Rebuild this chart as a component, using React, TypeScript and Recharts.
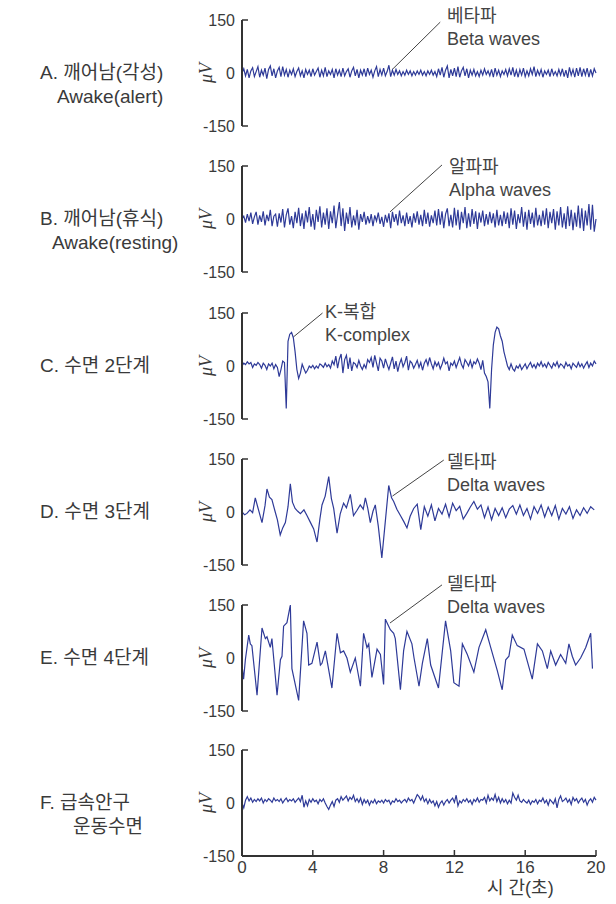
import React from 'react'
import { LineChart, Line, XAxis, YAxis, ReferenceLine } from 'recharts'

// sampled traces (µV), one value every 0.1 s from 0 to 20 s
const sampleStep = 0.1

const alertWave = [
  0, 12, -8, 10, -14, 6, 15, -10, 4, 18,
  -12, 8, -6, 14, -16, 10, 20, -8, 12, -14,
  6, 16, -10, 18, -6, 10, -12, 8, -4, 12,
  -10, 4, 14, -8, 6, -14, 10, -4, 8, -10,
  12, -6, 4, 14, -12, 8, -8, 16, -10, 6,
  -4, 10, -14, 12, -6, 8, -10, 14, -8, 4,
  12, -12, 6, 16, -8, 10, -14, 8, -6, 12,
  -10, 14, -4, 8, -12, 6, 18, -10, 10, -6,
  14, -8, 4, 22, -10, 8, -6, 10, -4, 6,
  -8, 4, -6, 8, -4, 6, -8, 4, -6, 6,
  -4, 8, -6, 4, -8, 6, -4, 8, -6, 4,
  -10, 12, -6, 16, -12, 8, 20, -14, 10, -8,
  14, -10, 18, -12, 6, 16, -8, 12, -14, 8,
  -6, 10, -8, 4, -10, 8, -6, 12, -4, 6,
  -8, 10, -12, 14, -6, 8, -10, 6, -4, 10,
  -8, 12, -6, 16, -10, 8, -12, 10, -6, 14,
  -10, 6, -8, 12, -4, 18, -10, 8, -6, 10,
  -12, 6, -4, 8, -10, 12, -6, 4, -8, 10,
  -6, 12, -10, 8, -14, 16, -6, 10, -12, 14,
  -8, 16, -10, 12, -6, 14, -12, 10, -8, 12,
  0,
]

const restingWave = [
  0, 8, -10, 14, -6, 18, -14, 6, 20, -16,
  10, -8, 22, -18, 12, -6, 26, -20, 8, 14,
  -22, 16, -10, 28, -24, 12, 30, -16, 8, -26,
  20, -12, 32, -20, 16, -28, 24, -10, 34, -22,
  14, -30, 26, -8, 36, -24, 18, -16, 30, -28,
  22, -12, 38, -26, 12, 48, -20, 30, -34, 18,
  -14, 34, -24, 10, -18, 26, -30, 14, -8, 20,
  -16, 8, -12, 14, -20, 10, -6, 18, -14, 6,
  -22, 12, -10, 16, -26, 20, -8, 14, -18, 24,
  -12, 10, -20, 18, -14, 8, -24, 16, -10, 22,
  -16, 12, -20, 26, -14, 18, -22, 10, -12, 24,
  -18, 28, -16, 22, -26, 14, 30, -20, 12, -24,
  32, -18, 26, -30, 20, -12, 34, -26, 16, -22,
  28, -14, 22, -28, 18, -10, 24, -20, 14, -16,
  20, -12, 16, -24, 26, -18, 12, -20, 22, -14,
  18, -26, 30, -16, 24, -28, 14, -12, 34, -22,
  20, -30, 26, -14, 18, -24, 32, -18, 12, -20,
  24, -16, 30, -26, 20, -12, 28, -30, 22, -18,
  34, -24, 16, -28, 36, -20, 26, -32, 18, -22,
  38, -26, 30, -34, 24, -18, 42, -30, 40, -36,
  0,
]

const stage2Wave = [
  0, 8, 4, 12, 6, 10, -4, 6, 2, 10,
  4, -6, 8, 2, -10, 6, 0, 8, -8, 4,
  -4, -30, -10, 14, 10, -120, 70, 90, 95, 80,
  40, -10, -35, -20, 5, -8, -20, -12, 0, -5,
  2, -8, 0, -6, 6, 2, -4, 8, -2, 4,
  -6, 14, 4, 28, -6, 20, 34, -20, 18, 30,
  -8, 24, -14, 10, 6, -4, 16, 0, -10, 4,
  -6, 18, 10, 24, -4, 30, 8, -14, 22, 14,
  -6, 20, 4, -10, 8, 26, -8, 14, -16, 6,
  20, -2, 10, 28, -12, 14, 8, -6, 4, 16,
  -4, 10, -12, 8, 18, 2, 24, 6, -8, 12,
  0, 10, -8, 4, 22, 6, 12, -14, 8, 2,
  14, -4, 10, 24, 4, -6, 18, 10, 0, 16,
  -4, 12, 6, 20, 8, -10, 16, -20, -30, -45,
  -120, -10, 60, 95, 110, 105, 85, 70, 40, 20,
  0, -10, 6, -8, -14, 0, -6, 4, -10, -2,
  6, -8, 2, 10, -4, 4, -6, 8, 0, 12,
  -2, 6, -4, 10, 2, -6, 8, 0, 12, -4,
  6, 2, -6, 10, 0, 4, -8, 8, 2, -4,
  10, -2, 6, -6, 4, 12, -4, 8, 0, 14,
  6,
]

const remWave = [
  0, -14, 8, 18, 6, 14, 2, 10, 4, 12,
  6, 14, 0, 10, 4, 12, 8, 2, 14, 6,
  10, 4, 12, 0, 8, 14, 4, 10, 6, 12,
  2, 8, 14, 4, 22, -12, 6, -8, 10, 2,
  12, 4, 8, -2, 10, 4, 12, 0, -10, -18,
  -6, 4, -10, 8, 12, 2, 18, 8, 14, 20,
  6, 16, 10, 22, 4, 12, 2, 14, -4, 10,
  0, 8, -6, 6, 0, 10, -2, 6, 2, 8,
  0, 10, 4, 8, -4, 6, 2, 12, 4, 8,
  0, 6, 10, 2, 14, 6, 10, 0, 12, 24,
  18, 8, 20, 4, 12, -2, 10, 0, 6, -8,
  4, -12, 0, 6, -6, 4, 10, 0, 8, 14,
  2, 22, -8, 6, 0, 10, 4, 12, 2, 8,
  -4, 10, 4, 14, 2, 10, 8, 16, 0, 22,
  6, 14, 8, 24, 4, 16, 0, 12, 2, 10,
  -2, 8, 0, 28, 16, 8, 22, 6, 2, 10,
  4, 0, 8, -4, 6, 2, 10, -2, 8, 4,
  14, 0, 8, -6, 10, 4, -2, 12, -14, 10,
  20, 4, 8, 14, 2, 10, -4, 16, 6, 12,
  0, 8, 14, 2, 10, -6, 6, 12, 2, 16,
  8,
]

// slow waves: turning points (time s, µV)
const stage3Times = [
  0, 0.15, 0.28, 0.45, 0.6, 0.75, 0.9, 1.13, 1.3, 1.41,
  1.55, 1.69, 1.85, 2.0, 2.16, 2.3, 2.45, 2.6, 2.73, 2.85,
  3.0, 3.15, 3.3, 3.5, 3.67, 3.85, 4.05, 4.24, 4.4, 4.52,
  4.7, 4.9, 5.05, 5.18, 5.37, 5.55, 5.74, 5.9, 6.12, 6.3,
  6.5, 6.68, 6.85, 6.97, 7.1, 7.25, 7.4, 7.53, 7.7, 7.9,
  8.1, 8.29, 8.45, 8.57, 8.75, 8.95, 9.15, 9.32, 9.5, 9.7,
  9.9, 10.1, 10.3, 10.5, 10.7, 10.9, 11.1, 11.3, 11.5, 11.7,
  11.9, 12.1, 12.3, 12.5, 12.7, 12.9, 13.1, 13.3, 13.5, 13.7,
  13.9, 14.1, 14.3, 14.5, 14.7, 14.9, 15.1, 15.3, 15.5, 15.7,
  15.9, 16.1, 16.3, 16.5, 16.7, 16.9, 17.1, 17.3, 17.5, 17.7,
  17.9, 18.1, 18.3, 18.5, 18.7, 18.9, 19.1, 19.3, 19.5, 19.7,
  19.9,
]
const stage3Values = [
  0, -8, -4, 6, -2, 40, 12, -30, 18, 65,
  42, 35, 5, -22, -65, -45, -30, 15, 80, 28,
  10, 2, -5, 6, -10, -28, -48, -85, -20, 20,
  45, 100, 38, 10, -60, -5, 25, 12, 50, -10,
  5, 20, 8, 40, 12, -30, 2, 20, -40, -130,
  -25, 75, 40, 30, 8, -10, -28, -45, -12, 10,
  22, -50, 15, -12, 20, -25, 10, -6, 22, -14,
  25, 4, 16, -20, -4, 14, 30, 8, 20, -16,
  14, -22, 10, -10, 12, -16, 8, 18, -6, 20,
  -10, 10, -20, 15, -4, 20, -14, 14, -10, 18,
  -20, 10, -6, 15, -18, 6, -10, 12, -4, 15,
  6,
]

const stage4Times = [
  0, 0.09, 0.19, 0.38, 0.47, 0.56, 0.85, 1.13, 1.32, 1.41,
  1.6, 1.69, 1.98, 2.17, 2.26, 2.35, 2.54, 2.73, 2.82, 3.2,
  3.48, 3.67, 3.77, 3.95, 4.24, 4.43, 4.52, 4.71, 5.08, 5.37,
  5.56, 5.74, 5.93, 6.12, 6.4, 6.69, 6.87, 7.06, 7.16, 7.34,
  7.63, 7.82, 8.0, 8.1, 8.38, 8.57, 8.66, 8.95, 9.13, 9.32,
  9.6, 9.72, 10.0, 10.19, 10.47, 10.66, 11.1, 11.5, 11.79, 11.97,
  12.26, 12.45, 12.73, 13.1, 13.39, 13.77, 14.05, 14.42, 14.7, 14.9,
  15.08, 15.27, 15.55, 15.93, 16.4, 16.69, 16.97, 17.25, 17.44, 17.72,
  18.0, 18.29, 18.47, 18.66, 18.85, 19.13, 19.42, 19.7, 19.8,
]
const stage4Values = [
  -20, -60, -5, 65, 40, 35, -105, 85, 55, 60,
  30, 55, -105, -5, 5, 90, 100, 150, -30, -120,
  105, 70, -20, -15, 45, -20, -15, 20, -85, 70,
  15, 20, 0, -40, 0, -80, 70, 30, 40, -55,
  25, 10, -75, 110, 80, 70, 55, -90, 20, 75,
  40, 0, -80, -15, 55, -20, -85, 105, 20, -70,
  -80, 40, 10, -40, 30, 80, 30, -35, -90, -5,
  5, 65, 35, 25, -60, 40, 20, -30, 20, -20,
  10, -15, 40, 5, -20, 0, 30, 70, -30,
]

const yTicks = [-150, 0, 150]
const xTicks = [0, 4, 8, 12, 16, 20]

const onGrid = (vals: number[]) => vals.map((v, i) => ({ t: Math.round(i * sampleStep * 100) / 100, v }))
const fromPairs = (ts: number[], vs: number[]) => ts.map((t, i) => ({ t, v: vs[i] }))

const W = 616
const PLOT_LEFT = 242
const PLOT_RIGHT = 596
const PLOT_H = 106
const M_TOP = 30
const TEXT = '#3a3a3a'
const TRACE = '#2e3a98'
const SANS = "'Liberation Sans', Arial, 'Noto Sans CJK KR', sans-serif"

type Panel = {
  top: number
  title: string
  sub?: string
  subX?: number
  data: { t: number; v: number }[]
  note?: [string, string]
  noteX?: number
  noteTop?: number
  leader?: [{ x: number; y: number }, { x: number; y: number }]
  last?: boolean
}

const panels: Panel[] = [
  { top: 20, title: 'A. 깨어남(각성)', sub: 'Awake(alert)', subX: 57, data: onGrid(alertWave),
    note: ['베타파', 'Beta waves'], noteX: 447, noteTop: 5, leader: [{ x: 8.47, y: 9 }, { x: 11.2, y: 144 }] },
  { top: 166, title: 'B. 깨어남(휴식)', sub: 'Awake(resting)', subX: 52, data: onGrid(restingWave),
    note: ['알파파', 'Alpha waves'], noteX: 449, noteTop: 156, leader: [{ x: 8.36, y: 20 }, { x: 11.3, y: 153 }] },
  { top: 313, title: 'C. 수면 2단계', data: onGrid(stage2Wave),
    note: ['K-복합', 'K-complex'], noteX: 325, noteTop: 301, leader: [{ x: 2.9, y: 82 }, { x: 4.55, y: 150 }] },
  { top: 459, title: 'D. 수면 3단계', data: fromPairs(stage3Times, stage3Values),
    note: ['델타파', 'Delta waves'], noteX: 447, noteTop: 451, leader: [{ x: 8.5, y: 45 }, { x: 11.4, y: 147 }] },
  { top: 605, title: 'E. 수면 4단계', data: fromPairs(stage4Times, stage4Values),
    note: ['델타파', 'Delta waves'], noteX: 447, noteTop: 573, leader: [{ x: 8.36, y: 99 }, { x: 11.3, y: 207 }] },
  { top: 750, title: 'F. 급속안구', sub: '운동수면', subX: 73, data: onGrid(remWave), last: true },
]

const YTick = (props: any) => {
  const { y, payload } = props
  return (
    <g>
      <text x={PLOT_LEFT - 7} y={y} dy={5.5} textAnchor="end" fontSize={16} fill={TEXT} fontFamily={SANS}>
        {payload.value}
      </text>
      {payload.value !== 0 && <line x1={PLOT_LEFT} x2={PLOT_LEFT + 6} y1={y} y2={y} stroke="#333" strokeWidth={1.5} />}
    </g>
  )
}

const axisY = M_TOP + PLOT_H
const XTick = (props: any) => {
  const { x, payload } = props
  return (
    <g>
      {payload.value !== 0 && <line x1={x} x2={x} y1={axisY} y2={axisY - 6} stroke="#333" strokeWidth={1.5} />}
      <text x={x} y={axisY + 17} textAnchor="middle" fontSize={17} fill={TEXT} fontFamily={SANS}>
        {payload.value}
      </text>
    </g>
  )
}

function EegPanel({ p }: { p: Panel }) {
  const bottom = p.last ? 50 : 10
  const h = M_TOP + PLOT_H + bottom
  return (
    <div style={{ position: 'absolute', left: 0, top: p.top - M_TOP }}>
      <LineChart width={W} height={h} data={p.data} margin={{ top: M_TOP, right: W - PLOT_RIGHT, bottom: p.last ? 10 : bottom, left: 0 }}>
        <XAxis
          type="number"
          dataKey="t"
          domain={[0, 20]}
          ticks={xTicks}
          hide={!p.last}
          height={40}
          axisLine={{ stroke: '#333', strokeWidth: 2 }}
          tickLine={false}
          tick={<XTick />}
          interval={0}
        />
        <YAxis
          type="number"
          domain={[-150, 150]}
          ticks={yTicks}
          width={PLOT_LEFT}
          axisLine={{ stroke: '#333', strokeWidth: 2 }}
          tickLine={false}
          tick={<YTick />}
          interval={0}
        />
        {p.leader && (
          <ReferenceLine segment={p.leader} stroke="#444" strokeWidth={1} ifOverflow="visible" />
        )}
        <Line type="linear" dataKey="v" stroke={TRACE} strokeWidth={1.2} dot={false} isAnimationActive={false} />
      </LineChart>
    </div>
  )
}

export default function App() {
  return (
    <div style={{ position: 'absolute', left: 0, top: 0, width: W, height: 904, background: '#fff', fontFamily: SANS, color: TEXT }}>
      {panels.map((p) => (
        <EegPanel key={p.title} p={p} />
      ))}
      {panels.map((p) => {
        const zeroY = p.top + PLOT_H / 2
        const lineShift = p.sub ? 0 : 0
        return (
          <React.Fragment key={'lbl' + p.title}>
            <div style={{ position: 'absolute', left: 40, top: zeroY - 12 + lineShift, fontSize: 19, lineHeight: '24px', whiteSpace: 'pre' }}>
              {p.title}
            </div>
            {p.sub && (
              <div style={{ position: 'absolute', left: p.subX, top: zeroY + 12, fontSize: 19, lineHeight: '24px', whiteSpace: 'pre' }}>
                {p.sub}
              </div>
            )}
            <div
              style={{
                position: 'absolute',
                left: 194,
                top: zeroY - 11,
                width: 24,
                height: 22,
                lineHeight: '22px',
                textAlign: 'center',
                transform: 'rotate(-90deg)',
                fontFamily: "'Liberation Serif', serif",
                fontStyle: 'italic',
                fontSize: 18,
              }}
            >
              μV
            </div>
            {p.note && (
              <div style={{ position: 'absolute', left: p.noteX, top: p.noteTop, fontSize: 18, lineHeight: '23px', color: '#444' }}>
                {p.note[0]}
                <br />
                {p.note[1]}
              </div>
            )}
          </React.Fragment>
        )
      })}
      <div style={{ position: 'absolute', left: 487, top: 878, fontSize: 18, lineHeight: '20px' }}>시 간(초)</div>
    </div>
  )
}
